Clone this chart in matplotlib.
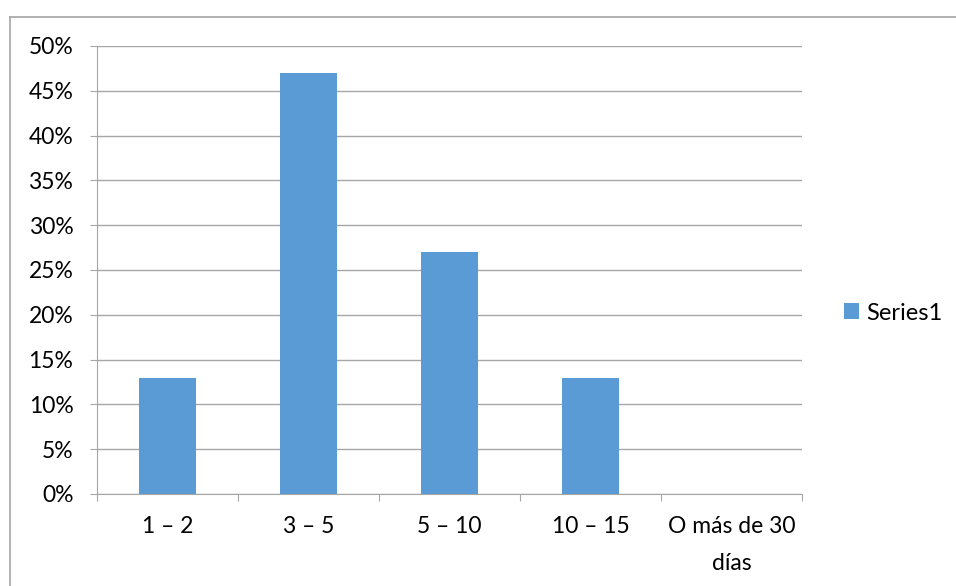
import matplotlib.pyplot as plt
from matplotlib.lines import Line2D
from matplotlib.ticker import PercentFormatter

# ---------- Data ----------
categories = ["1 – 2", "3 – 5", "5 – 10", "10 – 15", "O más de 30\ndías"]
values = [13, 47, 27, 13, 0]
series_name = "Series1"

BAR_COLOR = "#5B9BD5"
GRID_COLOR = "#A6A6A6"
FS = 16.5

plt.rcParams["font.family"] = ["Lato", "DejaVu Sans"]

W, H = 956, 586
fig = plt.figure(figsize=(W / 100, H / 100), dpi=100)
ax = fig.add_axes([97 / W, 1 - 494 / H, (802 - 97) / W, (494 - 46) / H])

x = list(range(len(categories)))
ax.bar(x, values, width=0.4, color=BAR_COLOR, label=series_name, zorder=3)

ax.set_xlim(-0.5, len(categories) - 0.5)
ax.set_ylim(0, 50)
ax.set_yticks(range(0, 51, 5))
ax.yaxis.set_major_formatter(PercentFormatter(decimals=0))
ax.grid(axis="y", color=GRID_COLOR, linewidth=1, zorder=0)

# category ticks sit between the bars
ax.set_xticks([i - 0.5 for i in range(len(categories) + 1)], minor=False)
ax.set_xticklabels([])
ax.set_xticks(x, minor=True)
ax.set_xticklabels(categories, minor=True, fontsize=FS, linespacing=1.95)
ax.tick_params(axis="x", which="minor", length=0, pad=16)
ax.tick_params(axis="x", which="major", length=5, color=GRID_COLOR, direction="out")
ax.tick_params(axis="y", length=5, color=GRID_COLOR, labelsize=FS, pad=12)

for side in ["top", "right"]:
    ax.spines[side].set_visible(False)
for side in ["left", "bottom"]:
    ax.spines[side].set_color(GRID_COLOR)

fig.legend(loc="center left", bbox_to_anchor=(844 / W, 1 - 313 / H),
           frameon=False, fontsize=17, handlelength=0.63, handleheight=0.63,
           handletextpad=0.3, borderpad=0, borderaxespad=0)

# outer chart frame (left and top edges visible)
fig.add_artist(Line2D([10 / W, 10 / W], [0, 1 - 17 / H], color=GRID_COLOR, lw=1.2,
                      transform=fig.transFigure))
fig.add_artist(Line2D([10 / W, 1], [1 - 17 / H, 1 - 17 / H], color=GRID_COLOR, lw=1.2,
                      transform=fig.transFigure))

fig.savefig("out.png", dpi=100)
